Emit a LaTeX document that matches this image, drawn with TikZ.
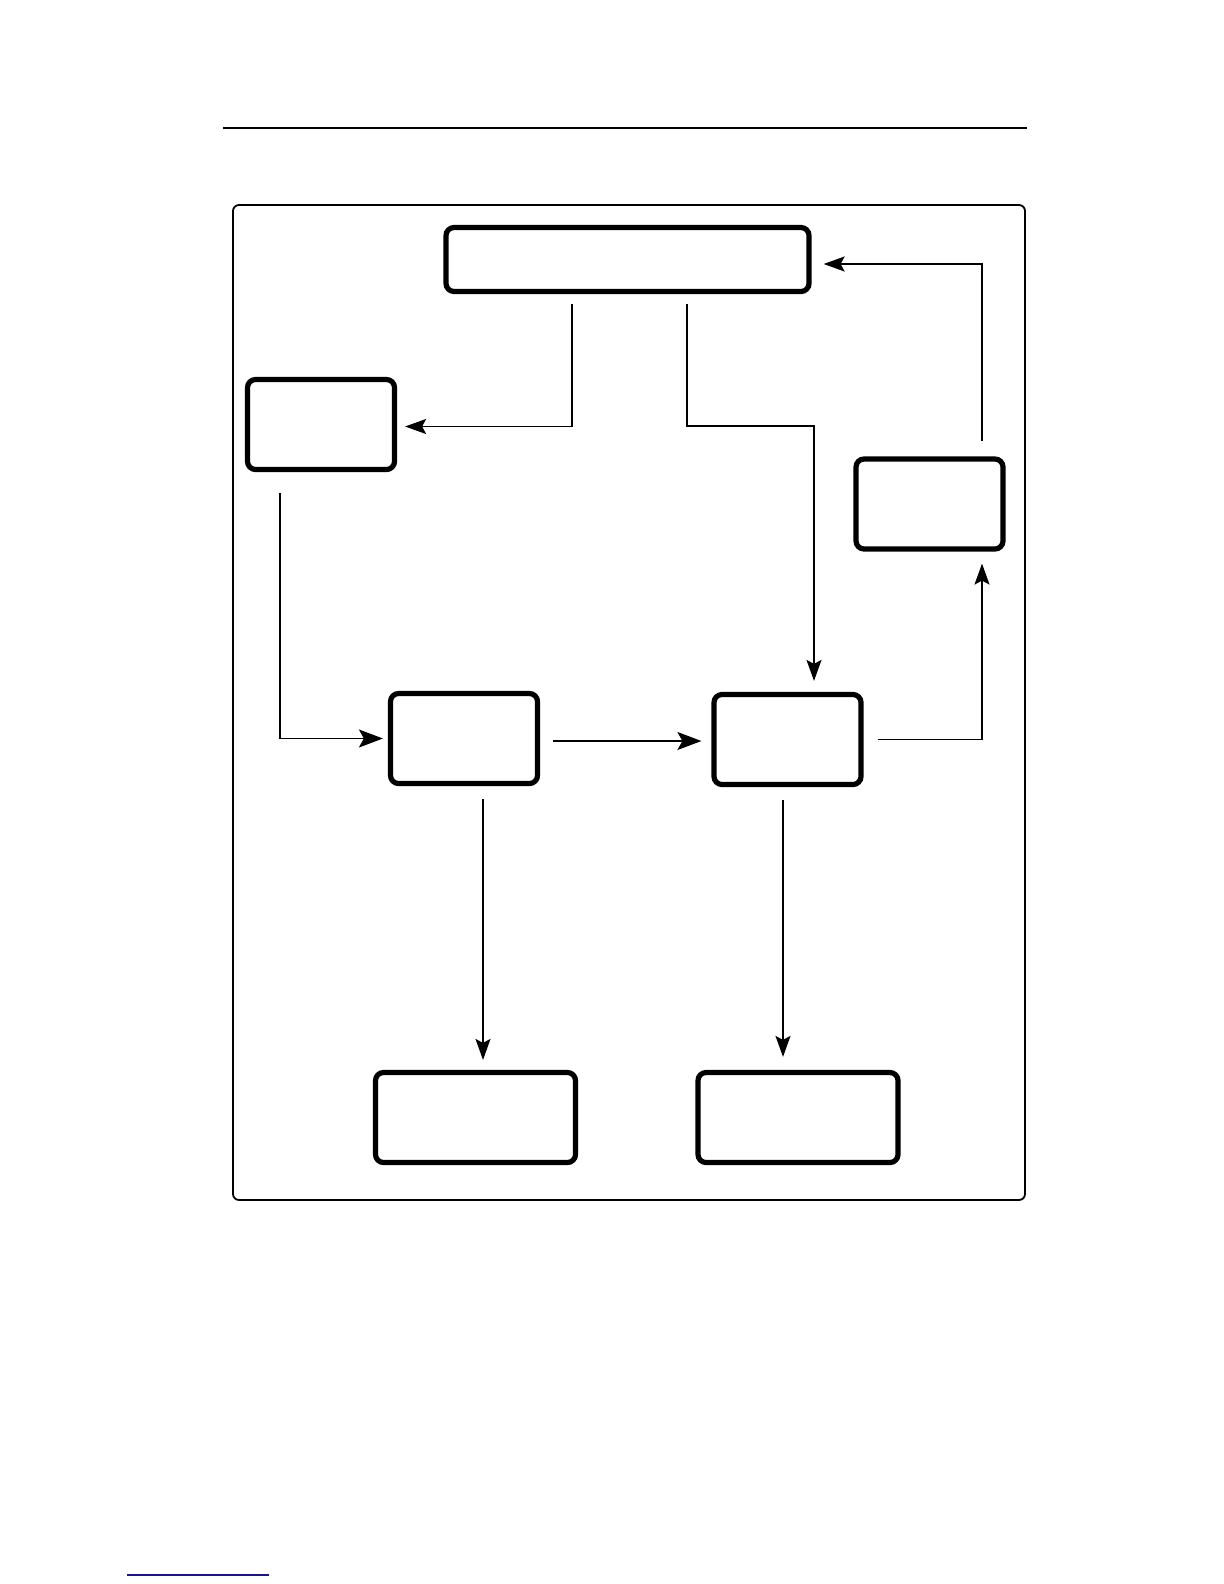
\documentclass[tikz,border=0pt]{standalone}
\usetikzlibrary{arrows.meta,calc}
\definecolor{linkblue}{RGB}{20,20,150}
\tikzset{
  box/.style={draw, line width=2.6pt, rounded corners=4pt, inner sep=0pt, fill=white},
  smallbox/.style={box, minimum width=73.5pt, minimum height=45pt},
  widebox/.style={box, minimum width=100pt, minimum height=45pt},
  conn/.style={line width=0.8pt, -{Stealth[length=10.5pt,width=7.5pt,inset=2pt]}},
  bigconn/.style={line width=0.8pt, -{Stealth[length=12pt,width=9pt,inset=2.5pt]}},
  frame/.style={line width=0.9pt, rounded corners=3pt}
}
\begin{document}
\begin{tikzpicture}[x=0.5pt,y=-0.5pt]
\useasboundingbox (0,0) rectangle (1224,1584);
% header rule and footnote rule
\draw[line width=1pt] (223,128) -- (1027,128);
\draw[linkblue, line width=1pt] (127,1575) -- (269,1575);
% outer frame
\draw[frame] (233,205) rectangle (1025,1200);
% boxes
\node[box, minimum width=181.5pt, minimum height=32pt] (top) at (627.5,259.5) {};
\node[smallbox] (A) at (321,424.5) {};
\node[smallbox] (R) at (929.5,504) {};
\node[smallbox] (M1) at (464,738.5) {};
\node[smallbox] (M2) at (787.5,739.5) {};
\node[widebox] (B1) at (475.5,1117.5) {};
\node[widebox] (B2) at (798,1117.5) {};
% helper coordinates
\coordinate (x1) at (572,0);
\coordinate (x2) at (687,0);
\coordinate (b2) at (814,426);
\coordinate (x3) at (280,0);
\coordinate (x5) at (982,0);
\coordinate (x7) at (483,0);
\coordinate (x8) at (783,0);
% connectors
\draw[conn, shorten <=5pt, shorten >=4pt] (top.south -| x1) |- ($(A.east)+(0,2)$);
\draw[conn, shorten <=5pt, shorten >=5.5pt] (top.south -| x2) |- (b2) -- (M2.north -| b2);
\draw[bigconn, shorten <=10.5pt, shorten >=2.5pt] (A.south -| x3) |- (M1.west);
\draw[bigconn, shorten <=6.5pt, shorten >=5pt] ($(M1.east)+(0,2.5)$) -- ($(M1.east -| M2.west)+(0,2.5)$);
\draw[conn, shorten <=7pt, shorten >=6pt] (M2.east) -| (R.south -| x5);
\draw[conn, shorten <=7.5pt, shorten >=6pt] (R.north -| x5) |- ($(top.east)+(0,4.5)$);
\draw[conn, shorten <=6.5pt, shorten >=5pt] (M1.south -| x7) -- (B1.north -| x7);
\draw[conn, shorten <=6.5pt, shorten >=6.5pt] (M2.south -| x8) -- (B2.north -| x8);
\end{tikzpicture}
\end{document}
